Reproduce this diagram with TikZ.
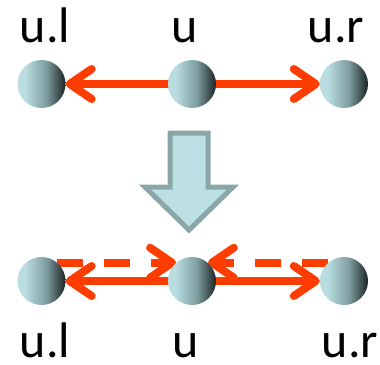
\documentclass[tikz,border=0pt]{standalone}
\usepackage{fontspec}
\setmainfont{Carlito}
\usetikzlibrary{arrows.meta,backgrounds}

\definecolor{ballLight}{HTML}{B9DDE0}
\definecolor{ballMid}{HTML}{7E9DA0}
\definecolor{ballDark}{HTML}{1C2424}
\definecolor{linkRed}{HTML}{FF3D00}
\definecolor{bigFill}{HTML}{BDE0E4}
\definecolor{bigEdge}{HTML}{8AA6A7}

% left-to-right ball shading (the path maps onto 25bp..75bp)
\pgfdeclarehorizontalshading{ballshade}{100bp}{%
  color(0bp)=(ballLight); color(33bp)=(ballLight); color(55bp)=(ballMid);
  color(75bp)=(ballDark); color(100bp)=(ballDark)}

\tikzset{
  ball/.style={circle, minimum size=48pt, inner sep=0pt, shading=ballshade},
  lbl/.style={anchor=base, inner sep=0pt, text depth=0pt,
    font=\fontsize{50}{56}\selectfont},
  link/.style={draw=linkRed, line width=8pt, line cap=round,
    -{Straight Barb[length=22pt, width=30pt, round]}},
  dlink/.style={link, dash pattern=on 26pt off 21pt, line cap=butt},
  bigarrow/.style={draw=bigEdge, fill=bigFill, line width=5pt, line join=miter},
}

\begin{document}
\begin{tikzpicture}[x=1pt, y=-1pt]
\useasboundingbox (0,0) rectangle (380,364);

% top row
\node[lbl] (tl) at (45,42) {u.l};
\node[lbl] (tm) at (185,42) {u};
\node[lbl] (tr) at (336,42) {u.r};
\node[ball] (l1) at (41.5,84) {};
\node[ball] (m1) at (192,84) {};
\node[ball] (r1) at (344,84) {};

% transition arrow
\draw[bigarrow] (170,133) -- (208,133) -- (208,187) -- (233,187)
  -- (189,230) -- (145,187) -- (170,187) -- cycle;

% bottom row
\node[ball] (l2) at (41.5,281) {};
\node[ball] (m2) at (192,281) {};
\node[ball] (r2) at (344,281) {};
\node[lbl] (bl) at (45,357) {u.l};
\node[lbl] (bm) at (186,357) {u};
\node[lbl] (br) at (350,357) {u.r};

\begin{pgfonlayer}{background}
  \draw[link] (m1) -- (l1);
  \draw[link] (m1) -- (r1);
  \draw[link] (m2) -- (l2);
  \draw[link] (m2) -- (r2);
  \draw[dlink] (l2.49) -- (m2.131);
  \draw[dlink] (r2.131) -- (m2.49);
\end{pgfonlayer}
\end{tikzpicture}
\end{document}
